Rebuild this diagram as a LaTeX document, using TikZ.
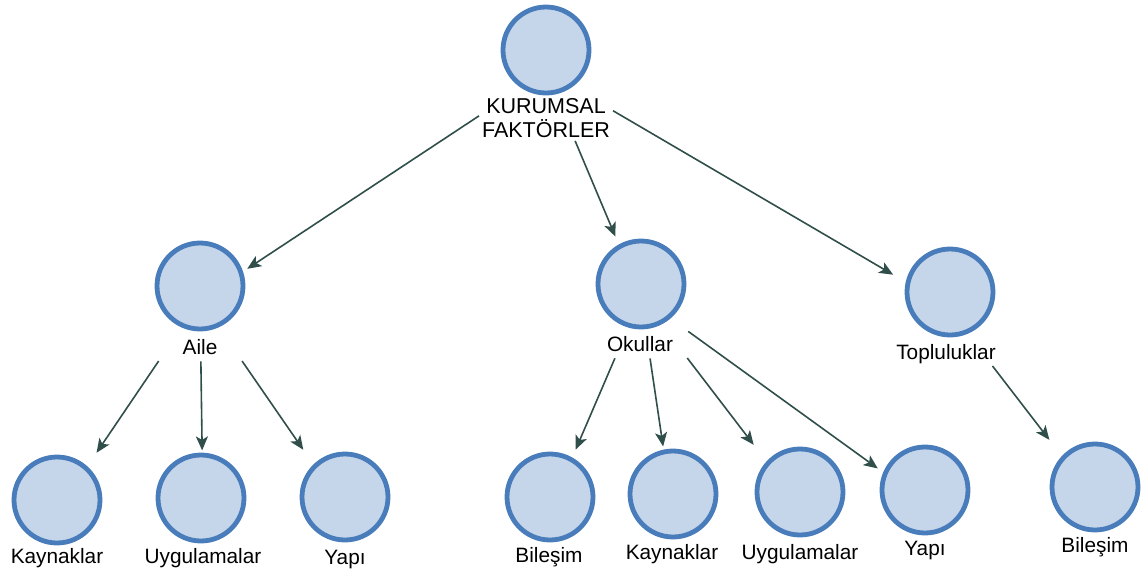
\documentclass[tikz,border=0pt]{standalone}
\usepackage{fontspec}
\setmainfont{Liberation Sans}
\usetikzlibrary{arrows.meta,fit}
\definecolor{cfill}{RGB}{197,213,234}
\definecolor{cline}{RGB}{72,124,186}
\definecolor{aline}{RGB}{48,78,74}
\begin{document}
\begin{tikzpicture}[x=1pt,y=-1pt,
  circ/.style={circle,draw=cline,fill=cfill,line width=4.8pt,minimum size=86pt,inner sep=0pt},
  lbl/.style={inner sep=1pt,anchor=base,text height=15pt,text depth=4pt,font=\fontsize{20.8}{24}\selectfont},
  grp/.style={inner sep=0pt},
  arr/.style={draw=aline,line width=1.6pt,shorten <=2pt,shorten >=2pt,-{Stealth[length=14pt,width=12pt,inset=3.5pt]}}]
\useasboundingbox (0,0) rectangle (1144,571);
% top
\node[circ] (c0) at (546,50) {};
\node[inner sep=1pt,align=center,font=\fontsize{21.5}{24}\selectfont] (l0) at (546,118) {KURUMSAL\\FAKTÖRLER};
\node[grp,fit=(c0)(l0)] (g0) {};
% level 2
\node[circ] (c1) at (200,286) {};
\node[lbl] (l1) at (200,354) {Aile};
\node[grp,fit=(c1)(l1)] (g1) {};
\node[circ] (c2) at (641,284) {};
\node[lbl] (l2) at (640,351) {Okullar};
\node[grp,fit=(c2)(l2)] (g2) {};
\node[circ] (c3) at (950,292) {};
\node[lbl] (l3) at (946,359) {Topluluklar};
\node[grp,fit=(c3)(l3)] (g3) {};
% level 3
\node[circ] (c4) at (57,500) {};
\node[lbl] (l4) at (57,563) {Kaynaklar};
\node[grp,fit=(c4)(l4)] (g4) {};
\node[circ] (c5) at (201,498) {};
\node[lbl] (l5) at (203,563) {Uygulamalar};
\node[grp,fit=(c5)(l5)] (g5) {};
\node[circ] (c6) at (345,497) {};
\node[lbl] (l6) at (345,564) {Yapı};
\node[grp,fit=(c6)(l6)] (g6) {};
\node[circ] (c7) at (550,497) {};
\node[lbl] (l7) at (549,562) {Bileşim};
\node[grp,fit=(c7)(l7)] (g7) {};
\node[circ] (c8) at (673,494) {};
\node[lbl] (l8) at (672,559) {Kaynaklar};
\node[grp,fit=(c8)(l8)] (g8) {};
\node[circ] (c9) at (800,492) {};
\node[lbl] (l9) at (800,559) {Uygulamalar};
\node[grp,fit=(c9)(l9)] (g9) {};
\node[circ] (c10) at (925,490) {};
\node[lbl] (l10) at (925,555) {Yapı};
\node[grp,fit=(c10)(l10)] (g10) {};
\node[circ] (c11) at (1095,487) {};
\node[lbl] (l11) at (1095,552) {Bileşim};
\node[grp,fit=(c11)(l11)] (g11) {};
% connectors
\draw[arr] (g0) -- (g1);
\draw[arr] (g0) -- (g2);
\draw[arr] (g0) -- (g3);
\draw[arr] (g1) -- (g4);
\draw[arr] (g1) -- (g5);
\draw[arr] (g1) -- (g6);
\draw[arr] (g2) -- (g7);
\draw[arr] (g2) -- (g8);
\draw[arr] (g2) -- (g9);
\draw[arr] (g2) -- (g10);
\draw[arr] (g3) -- (g11);
\end{tikzpicture}
\end{document}
